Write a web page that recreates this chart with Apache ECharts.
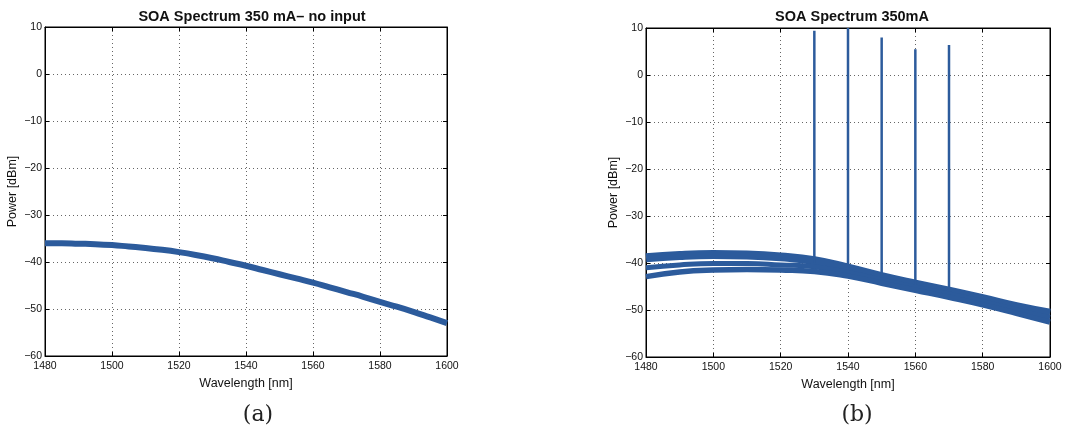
<!DOCTYPE html>
<html><head><meta charset="utf-8">
<script src="https://cdn.jsdelivr.net/npm/echarts@6/dist/echarts.min.js"></script>
<style>html,body{margin:0;padding:0;background:#fff}#c{width:1076px;height:431px}</style>
</head><body><div id="c"></div>
<script>
// ---- data ----
const titleA = 'SOA Spectrum 350 mA\u2013 no input';
const titleB = 'SOA Spectrum 350mA';
const xName = 'Wavelength [nm]';
const yName = 'Power [dBm]';
const captionA = '(a)';
const captionB = '(b)';

// panel (a): ASE spectrum, no input
const wlA = [1480,1485,1490,1495,1500,1505,1510,1515,1520,1525,1530,1535,1540,1545,1550,1555,1560,1565,1570,1575,1580,1585,1590,1595,1600];
const powA = [-36.0,-36.0,-36.1,-36.2,-36.4,-36.7,-37.0,-37.4,-37.9,-38.5,-39.2,-40.0,-40.8,-41.7,-42.6,-43.5,-44.4,-45.4,-46.4,-47.4,-48.5,-49.5,-50.6,-51.8,-53.0];

// panel (b): three overlapping spectrum traces
const wlB = [1480,1490,1500,1510,1520,1530,1540,1550,1560,1570,1580,1590,1600];
const powB1 = [-38.9,-38.4,-38.2,-38.3,-38.7,-39.5,-41.1,-42.9,-44.5,-46.0,-47.6,-49.3,-50.7];
const powB2 = [-41.0,-40.4,-40.1,-40.1,-40.4,-40.8,-42.0,-43.6,-45.1,-46.6,-48.2,-50.0,-51.6];
const powB3 = [-42.9,-41.9,-41.5,-41.4,-41.5,-41.8,-42.8,-44.3,-45.8,-47.3,-48.9,-50.7,-52.6];

// panel (b): amplified signal peaks
const peakWl = [1530,1540,1550,1560,1570];
const peakTop = [9.4,10,8.0,5.5,6.4];
const peakBase = [-40.0,-41.0,-43.0,-44.7,-45.7];

const xTicks = {min:1480, max:1600, interval:20};
const yTicks = {min:-60, max:10, interval:10};

// ---- chart ----
const blue = '#2c5b9c';
const font = 'Liberation Sans, Arial, sans-serif';
const chart = echarts.init(document.getElementById('c'));
const grids = [
  {left:45, width:402, top:27, height:329},
  {left:646, width:404, top:28, height:329}
];
const xAxes = [], yAxes = [];
grids.forEach((g,i)=>{
  xAxes.push({type:'value', gridIndex:i, position:'bottom', min:xTicks.min, max:xTicks.max, interval:xTicks.interval,
    name:xName, nameLocation:'middle', nameGap:17,
    nameTextStyle:{fontFamily:font, fontSize:12.5, color:'#111'},
    axisLine:{onZero:false, lineStyle:{color:'#000', width:1}},
    axisTick:{inside:true, length:4, lineStyle:{color:'#000'}},
    axisLabel:{fontFamily:font, fontSize:10.5, color:'#111', margin:5, formatter:v=>String(v)},
    splitLine:{show:true, lineStyle:{type:[1,3], color:'#666', width:1}}});
  xAxes.push({type:'value', gridIndex:i, position:'top', min:xTicks.min, max:xTicks.max, interval:xTicks.interval,
    axisLine:{onZero:false, lineStyle:{color:'#000'}},
    axisTick:{inside:true, length:4, lineStyle:{color:'#000'}},
    axisLabel:{show:false}, splitLine:{show:false}});
  yAxes.push({type:'value', gridIndex:i, position:'left', min:yTicks.min, max:yTicks.max, interval:yTicks.interval,
    name:yName, nameLocation:'middle', nameGap:26, nameRotate:90,
    nameTextStyle:{fontFamily:font, fontSize:12.5, color:'#111'},
    axisLine:{onZero:false, lineStyle:{color:'#000'}},
    axisTick:{inside:true, length:4, lineStyle:{color:'#000'}},
    axisLabel:{fontFamily:font, fontSize:10.5, color:'#111', margin:3,
      formatter:v=> v<0 ? '\u2212'+Math.abs(v) : String(v)},
    splitLine:{show:true, lineStyle:{type:[1,3], color:'#666', width:1}}});
  yAxes.push({type:'value', gridIndex:i, position:'right', min:yTicks.min, max:yTicks.max, interval:yTicks.interval,
    axisLine:{onZero:false, lineStyle:{color:'#000'}},
    axisTick:{inside:true, length:4, lineStyle:{color:'#000'}},
    axisLabel:{show:false}, splitLine:{show:false}});
});

const zip = (xs,ys)=>xs.map((x,k)=>[x,ys[k]]);
const lineS = (data, xi, yi, w, smooth)=>({type:'line', xAxisIndex:xi, yAxisIndex:yi, data, symbol:'none',
  smooth:smooth, clip:true, lineStyle:{color:blue, width:w}, silent:true, animation:false});

const series = [
  lineS(zip(wlA,powA),0,0,6,true),
  lineS(zip(wlB,powB1),2,2,9,true),
  lineS(zip(wlB,powB2),2,2,5,true),
  lineS(zip(wlB,powB3),2,2,5.5,true)
];
peakWl.forEach((w,k)=>{
  series.push(lineS([[w,peakBase[k]],[w,peakTop[k]]],2,2,2.5,false));
});

chart.setOption({
  animation:false,
  backgroundColor:'#fff',
  title:[
    {text:titleA, left:247, top:4, textAlign:'center', textStyle:{fontFamily:font, fontSize:14.5, fontWeight:'bold', color:'#111'}},
    {text:titleB, left:847, top:4, textAlign:'center', textStyle:{fontFamily:font, fontSize:14.5, fontWeight:'bold', color:'#111'}},
    {text:captionA, left:253, top:399, textAlign:'center', textStyle:{fontFamily:'DejaVu Serif, Liberation Serif, serif', fontSize:22, fontWeight:'normal', color:'#222'}},
    {text:captionB, left:852, top:399, textAlign:'center', textStyle:{fontFamily:'DejaVu Serif, Liberation Serif, serif', fontSize:22, fontWeight:'normal', color:'#222'}}
  ],
  grid:grids.map(g=>Object.assign({show:true, borderColor:'#000', borderWidth:1, backgroundColor:'#fff'}, g)),
  xAxis:xAxes, yAxis:yAxes, series
});
</script></body></html>
